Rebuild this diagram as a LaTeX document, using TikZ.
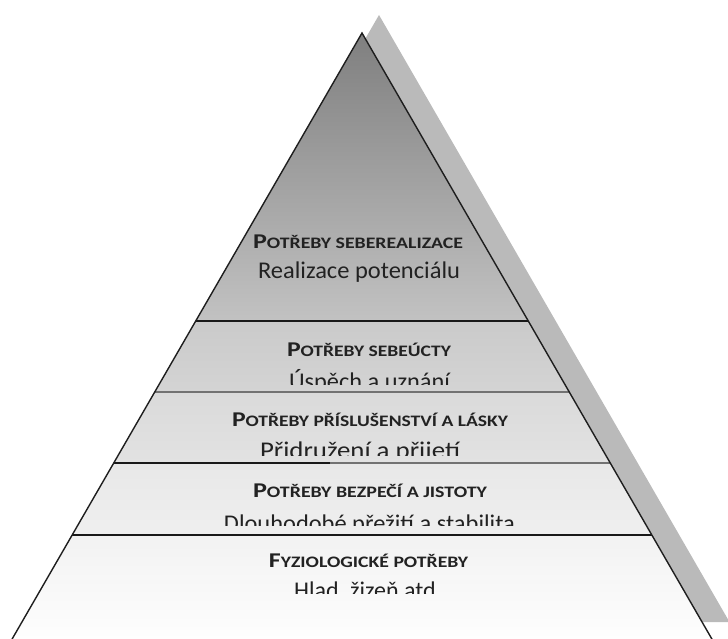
\documentclass[tikz,border=0pt]{standalone}
\usepackage{fontspec}
\setmainfont{Carlito}
\usepackage{graphicx}
\definecolor{shadowgray}{HTML}{BABABA}
\definecolor{bOneT}{HTML}{7F7F7F}
\definecolor{bOneB}{HTML}{C2C2C2}
\definecolor{bTwoT}{HTML}{CACACA}
\definecolor{bTwoB}{HTML}{D4D4D4}
\definecolor{bThreeT}{HTML}{DADADA}
\definecolor{bThreeB}{HTML}{E2E2E2}
\definecolor{bFourT}{HTML}{E8E8E8}
\definecolor{bFourB}{HTML}{EFEFEF}
\definecolor{bFiveT}{HTML}{F2F2F2}
\definecolor{bFiveB}{HTML}{FEFEFE}
\definecolor{txtcol}{HTML}{222222}
\definecolor{edgecol}{HTML}{1E1E1E}
\definecolor{softline}{HTML}{727272}
\newcommand\pyrL[1]{362-0.57735*(605-#1)}
\newcommand\pyrR[1]{362+0.57735*(605-#1)}
\newcommand\hdtxt[3]{\resizebox{#1}{\height}{\bfseries\fontsize{21}{21}\selectfont #2\fontsize{16}{16}\selectfont #3}}
\newcommand\bodytxt[2]{\resizebox{#1}{\height}{\fontsize{24}{24}\selectfont #2}}
\tikzset{
  lbl/.style={inner sep=0pt, anchor=base, text=txtcol},
  hline/.style={line width=1.3pt, draw=black!90},
  softhline/.style={line width=1.8pt, draw=softline},
  edge/.style={line width=1.4pt, draw=edgecol, line join=miter}
}
\begin{document}
\begin{tikzpicture}[x=1pt,y=1pt]
\useasboundingbox (0,0) rectangle (728,638);
\clip (0,0) rectangle (728,638);
% shadow
\fill[shadowgray] (379,623) -- (28.5,16) -- (729.5,16) -- cycle;
% bands
\shade[top color=bOneT, bottom color=bOneB] (362,605) -- ({\pyrR{317}},317) -- ({\pyrL{317}},317) -- cycle;
\shade[top color=bTwoT, bottom color=bTwoB] ({\pyrL{317}},317) -- ({\pyrR{317}},317) -- ({\pyrR{246}},246) -- ({\pyrL{246}},246) -- cycle;
\shade[top color=bThreeT, bottom color=bThreeB] ({\pyrL{246}},246) -- ({\pyrR{246}},246) -- ({\pyrR{175}},175) -- ({\pyrL{175}},175) -- cycle;
\shade[top color=bFourT, bottom color=bFourB] ({\pyrL{175}},175) -- ({\pyrR{175}},175) -- ({\pyrR{103}},103) -- ({\pyrL{103}},103) -- cycle;
\shade[top color=bFiveT, bottom color=bFiveB] ({\pyrL{103}},103) -- ({\pyrR{103}},103) -- ({\pyrR{-2}},-2) -- ({\pyrL{-2}},-2) -- cycle;
% texts
\node[lbl] (h1) at (358,389) {\hdtxt{210pt}{P}{OTŘEBY SEBEREALIZACE}};
\node[lbl] (t1) at (359,359) {\bodytxt{202pt}{Realizace potenciálu}};
\node[lbl] (h2) at (369,282) {\hdtxt{164pt}{P}{OTŘEBY SEBEÚCTY}};
\begin{scope}
\clip (0,254) rectangle (728,638);
\node[lbl] (t2) at (369.5,249) {\bodytxt{161pt}{Úspěch a uznání}};
\end{scope}
\node[lbl] (h3) at (370,212) {\hdtxt{276pt}{P}{OTŘEBY PŘÍSLUŠENSTVÍ A LÁSKY}};
\begin{scope}
\clip (0,182.5) rectangle (728,638);
\node[lbl] (t3) at (360,180) {\bodytxt{200pt}{Přidružení a přijetí}};
\end{scope}
\node[lbl] (h4) at (370,141) {\hdtxt{234pt}{P}{OTŘEBY BEZPEČÍ A JISTOTY}};
\begin{scope}
\clip (0,113) rectangle (728,638);
\node[lbl] (t4) at (369.5,107) {\bodytxt{291pt}{Dlouhodobé přežití a stabilita}};
\end{scope}
\node[lbl] (h5) at (368.5,71) {\hdtxt{199pt}{F}{YZIOLOGICKÉ POTŘEBY}};
\begin{scope}
\clip (0,45) rectangle (728,638);
\node[lbl, anchor=base west] (t5) at (294,40) {\fontsize{24}{24}\selectfont Hlad, žizeň atd.};
\end{scope}
% band separators
\draw[hline] ({\pyrL{317}},317) -- ({\pyrR{317}},317);
\draw[softhline] ({\pyrL{246}},246) -- ({\pyrR{246}},246);
\draw[softhline] (330,175) -- ({\pyrR{175}},175);
\draw[hline] ({\pyrL{175}},175) -- (330,175);
\draw[hline] ({\pyrL{103}},103) -- ({\pyrR{103}},103);
% outline
\draw[edge] ({\pyrL{-2}},-2) -- (362,605) -- ({\pyrR{-2}},-2);
\end{tikzpicture}
\end{document}
